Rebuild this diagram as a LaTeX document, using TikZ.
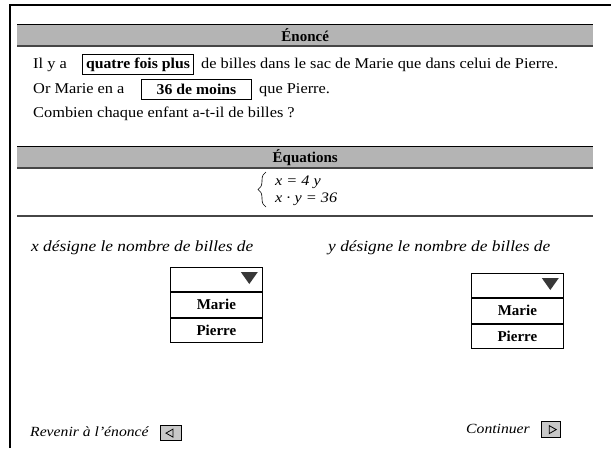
\documentclass[tikz,border=0pt]{standalone}
\usepackage{fontspec}
\setmainfont{Liberation Serif}
\newfontfamily\widefont{Liberation Serif}[FakeStretch=1.09]
\newfontfamily\boldwide{Liberation Serif}[FakeStretch=1.05]
\newfontfamily\capfont{Liberation Serif}[FakeStretch=1.12]
\usetikzlibrary{decorations.pathreplacing}
\definecolor{bargray}{RGB}{180,180,180}
\definecolor{bardark}{RGB}{70,70,70}
\definecolor{arrowgray}{RGB}{55,55,55}
\definecolor{btngray}{RGB}{200,200,200}
\tikzset{
  bar/.style={fill=bargray, minimum width=576pt, minimum height=22pt, inner sep=0pt, anchor=north west, font=\fontsize{15}{17}\selectfont\bfseries},
  txt/.style={inner sep=0pt, anchor=base west, font=\widefont\fontsize{15}{18}\selectfont},
  valbox/.style={draw, line width=1pt, inner sep=0pt, anchor=north west, font=\boldwide\fontsize{15}{17}\selectfont\bfseries},
  captxt/.style={inner sep=0pt, anchor=base west, font=\capfont\fontsize{15.5}{18}\selectfont\itshape},
  eqtxt/.style={inner sep=0pt, anchor=base west, font=\capfont\fontsize{14.5}{16}\selectfont\itshape},
  ddrow/.style={draw, line width=0.8pt, minimum width=92pt, inner sep=0pt, anchor=north west, font=\fontsize{15}{17}\selectfont\bfseries},
  btn/.style={draw, line width=1.2pt, fill=btngray, minimum width=21pt, minimum height=15pt, inner sep=0pt, anchor=north west},
  navtxt/.style={inner sep=0pt, font=\capfont\fontsize{14}{16}\selectfont\itshape},
}
\begin{document}
\begin{tikzpicture}[x=1pt,y=-1pt]
\useasboundingbox (0,0) rectangle (616,448);
\fill[white] (0,0) rectangle (616,448);
% outer frame
\coordinate (fbl) at (10,448);
\coordinate (ftl) at (10,5);
\coordinate (ftr) at (611,5);
\draw[line width=2pt] (fbl) -- (ftl) -- (ftr);

% Enonce bar
\node[bar] (enbar) at (17,24) {Énoncé};
\draw[line width=1pt] (enbar.north west) -- (enbar.north east);
\draw[bardark, line width=2pt] (enbar.south west) -- (enbar.south east);

% statement lines
\node[txt] (l1a) at (33,68) {Il y a};
\node[valbox, minimum width=111pt, minimum height=20pt] (l1b) at (82,54) {quatre fois plus};
\node[txt] (l1c) at (201,68) {de billes dans le sac de Marie que dans celui de Pierre.};

\node[txt] (l2a) at (33,93) {Or Marie en a};
\node[valbox, minimum width=110pt, minimum height=20pt] (l2b) at (141,79) {36 de moins};
\node[txt] (l2c) at (259,93) {que Pierre.};

\node[txt] (l3a) at (33,117) {Combien chaque enfant a-t-il de billes ?};

% Equations bar
\node[bar] (eqbar) at (17,146) {Équations};
\draw[line width=1pt] (eqbar.north west) -- (eqbar.north east);
\draw[bardark, line width=2pt] (eqbar.south west) -- (eqbar.south east);

\coordinate (brt) at (266,172);
\coordinate (brb) at (266,207);
\draw[line width=0.6pt, decorate, decoration={brace, amplitude=8pt}] (brb) -- (brt);
\node[eqtxt] (eq1) at (275,185) {x = 4 y};
\node[eqtxt] (eq2) at (275,202) {x · y = 36};

\coordinate (sepl) at (17,216);
\coordinate (sepr) at (593,216);
\draw[bardark, line width=2pt] (sepl) -- (sepr);

% captions
\node[captxt] (capx) at (31,251) {x désigne le nombre de billes de};
\node[captxt] (capy) at (328,251) {y désigne le nombre de billes de};

% dropdown 1
\node[ddrow, minimum height=24pt] (dxa) at (170,267) {};
\node[ddrow, minimum height=25pt] (dxb) at (dxa.south west) {Marie};
\node[ddrow, minimum height=24pt] (dxc) at (dxb.south west) {Pierre};
\fill[arrowgray] ([xshift=-22pt,yshift=-5pt]dxa.north east) -- ([xshift=-5pt,yshift=-5pt]dxa.north east) -- ([xshift=-13.5pt,yshift=-17pt]dxa.north east) -- cycle;

% dropdown 2
\node[ddrow, minimum height=24pt] (dya) at (471,273) {};
\node[ddrow, minimum height=25pt] (dyb) at (dya.south west) {Marie};
\node[ddrow, minimum height=24pt] (dyc) at (dyb.south west) {Pierre};
\fill[arrowgray] ([xshift=-22pt,yshift=-5pt]dya.north east) -- ([xshift=-5pt,yshift=-5pt]dya.north east) -- ([xshift=-13.5pt,yshift=-17pt]dya.north east) -- cycle;

% navigation
\node[navtxt, anchor=base west] (back) at (30,436) {Revenir à l’énoncé};
\node[btn] (bbtn) at (160,425) {};
\draw[line width=0.8pt] ([xshift=6pt]bbtn.west) -- ([xshift=13pt,yshift=4pt]bbtn.west) -- ([xshift=13pt,yshift=-4pt]bbtn.west) -- cycle;

\node[navtxt, anchor=base east] (cont) at (530,433) {Continuer};
\node[btn, minimum width=19pt, minimum height=16pt] (fbtn) at (541,421) {};
\draw[line width=0.8pt] ([xshift=-5pt]fbtn.east) -- ([xshift=-12pt,yshift=4pt]fbtn.east) -- ([xshift=-12pt,yshift=-4pt]fbtn.east) -- cycle;
\end{tikzpicture}
\end{document}
